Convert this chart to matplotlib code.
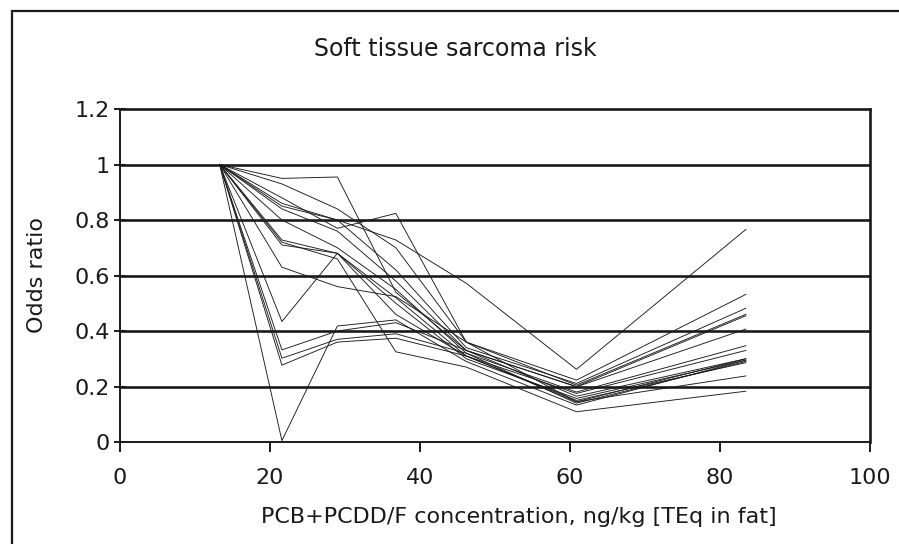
import matplotlib
matplotlib.use("Agg")
import matplotlib.pyplot as plt
from matplotlib.patches import Rectangle

# concentration categories (ng/kg TEq in fat)
conc = [13.3, 21.6, 29.0, 36.8, 46.2, 60.9, 83.5]

# odds ratios, one list per analysis
or_01 = [1.0, 0.950, 0.955, 0.540, 0.330, 0.200, 0.455]
or_02 = [1.0, 0.880, 0.770, 0.824, 0.360, 0.205, 0.460]
or_03 = [1.0, 0.860, 0.800, 0.728, 0.572, 0.262, 0.766]
or_04 = [1.0, 0.930, 0.840, 0.700, 0.360, 0.223, 0.532]
or_05 = [1.0, 0.850, 0.800, 0.620, 0.340, 0.211, 0.482]
or_06 = [1.0, 0.840, 0.760, 0.580, 0.330, 0.199, 0.407]
or_07 = [1.0, 0.800, 0.700, 0.550, 0.320, 0.180, 0.347]
or_08 = [1.0, 0.728, 0.680, 0.520, 0.310, 0.175, 0.330]
or_09 = [1.0, 0.710, 0.680, 0.500, 0.300, 0.157, 0.295]
or_10 = [1.0, 0.630, 0.560, 0.524, 0.360, 0.145, 0.300]
or_11 = [1.0, 0.434, 0.680, 0.460, 0.310, 0.150, 0.286]
or_12 = [1.0, 0.332, 0.400, 0.430, 0.330, 0.165, 0.300]
or_13 = [1.0, 0.302, 0.370, 0.390, 0.320, 0.140, 0.290]
or_14 = [1.0, 0.277, 0.360, 0.374, 0.310, 0.145, 0.238]
or_15 = [1.0, 0.005, 0.418, 0.440, 0.290, 0.133, 0.295]
or_16 = [1.0, 0.720, 0.660, 0.325, 0.270, 0.109, 0.183]

series = [or_01, or_02, or_03, or_04, or_05, or_06, or_07, or_08,
          or_09, or_10, or_11, or_12, or_13, or_14, or_15, or_16]

x_ticks = [0, 20, 40, 60, 80, 100]
y_ticks = [0, 0.2, 0.4, 0.6, 0.8, 1.0, 1.2]
y_labels = ["0", "0.2", "0.4", "0.6", "0.8", "1", "1.2"]

INK = "#1a1a1a"
plt.rcParams["font.family"] = "DejaVu Sans"

fig = plt.figure(figsize=(8.99, 5.44), dpi=100)
ax = fig.add_axes([0.1335, 0.1875, 0.8337, 0.6121])

# outer chart frame (open on right / bottom like the scan)
fig.patches.append(Rectangle((12 / 899, -0.1), 1.2, 1.1 - 11 / 544,
                             transform=fig.transFigure, fill=False,
                             edgecolor=INK, lw=1.6))

for s in series:
    ax.plot(conc, s, color=INK, lw=0.65, zorder=3)

for y in y_ticks[1:-1]:
    ax.axhline(y, color=INK, lw=1.9, zorder=2)

ax.set_xlim(0, 100)
ax.set_ylim(0, 1.2)
ax.set_xticks(x_ticks)
ax.set_xticklabels([str(v) for v in x_ticks])
ax.set_yticks(y_ticks)
ax.set_yticklabels(y_labels)

for side in ["left", "bottom"]:
    ax.spines[side].set_linewidth(1.4)
for side in ["top", "right"]:
    ax.spines[side].set_linewidth(1.9)
for sp in ax.spines.values():
    sp.set_color(INK)

ax.tick_params(axis="x", direction="out", length=7, width=1.4,
               pad=12, labelsize=16, colors=INK)
ax.tick_params(axis="y", direction="inout", length=9, width=1.4,
               pad=3, labelsize=16, colors=INK)

fig.text(37 / 899, 1 - 275 / 544, "Odds ratio", rotation=90,
         ha="center", va="center", fontsize=16, color=INK)
fig.text(519 / 899, 1 - 517 / 544, "PCB+PCDD/F concentration, ng/kg [TEq in fat]",
         ha="center", va="center", fontsize=16, color=INK)
fig.text(455 / 899, 1 - 49 / 544, "Soft tissue sarcoma risk",
         ha="center", va="center", fontsize=17, color=INK)

fig.savefig("out.png", dpi=100)
